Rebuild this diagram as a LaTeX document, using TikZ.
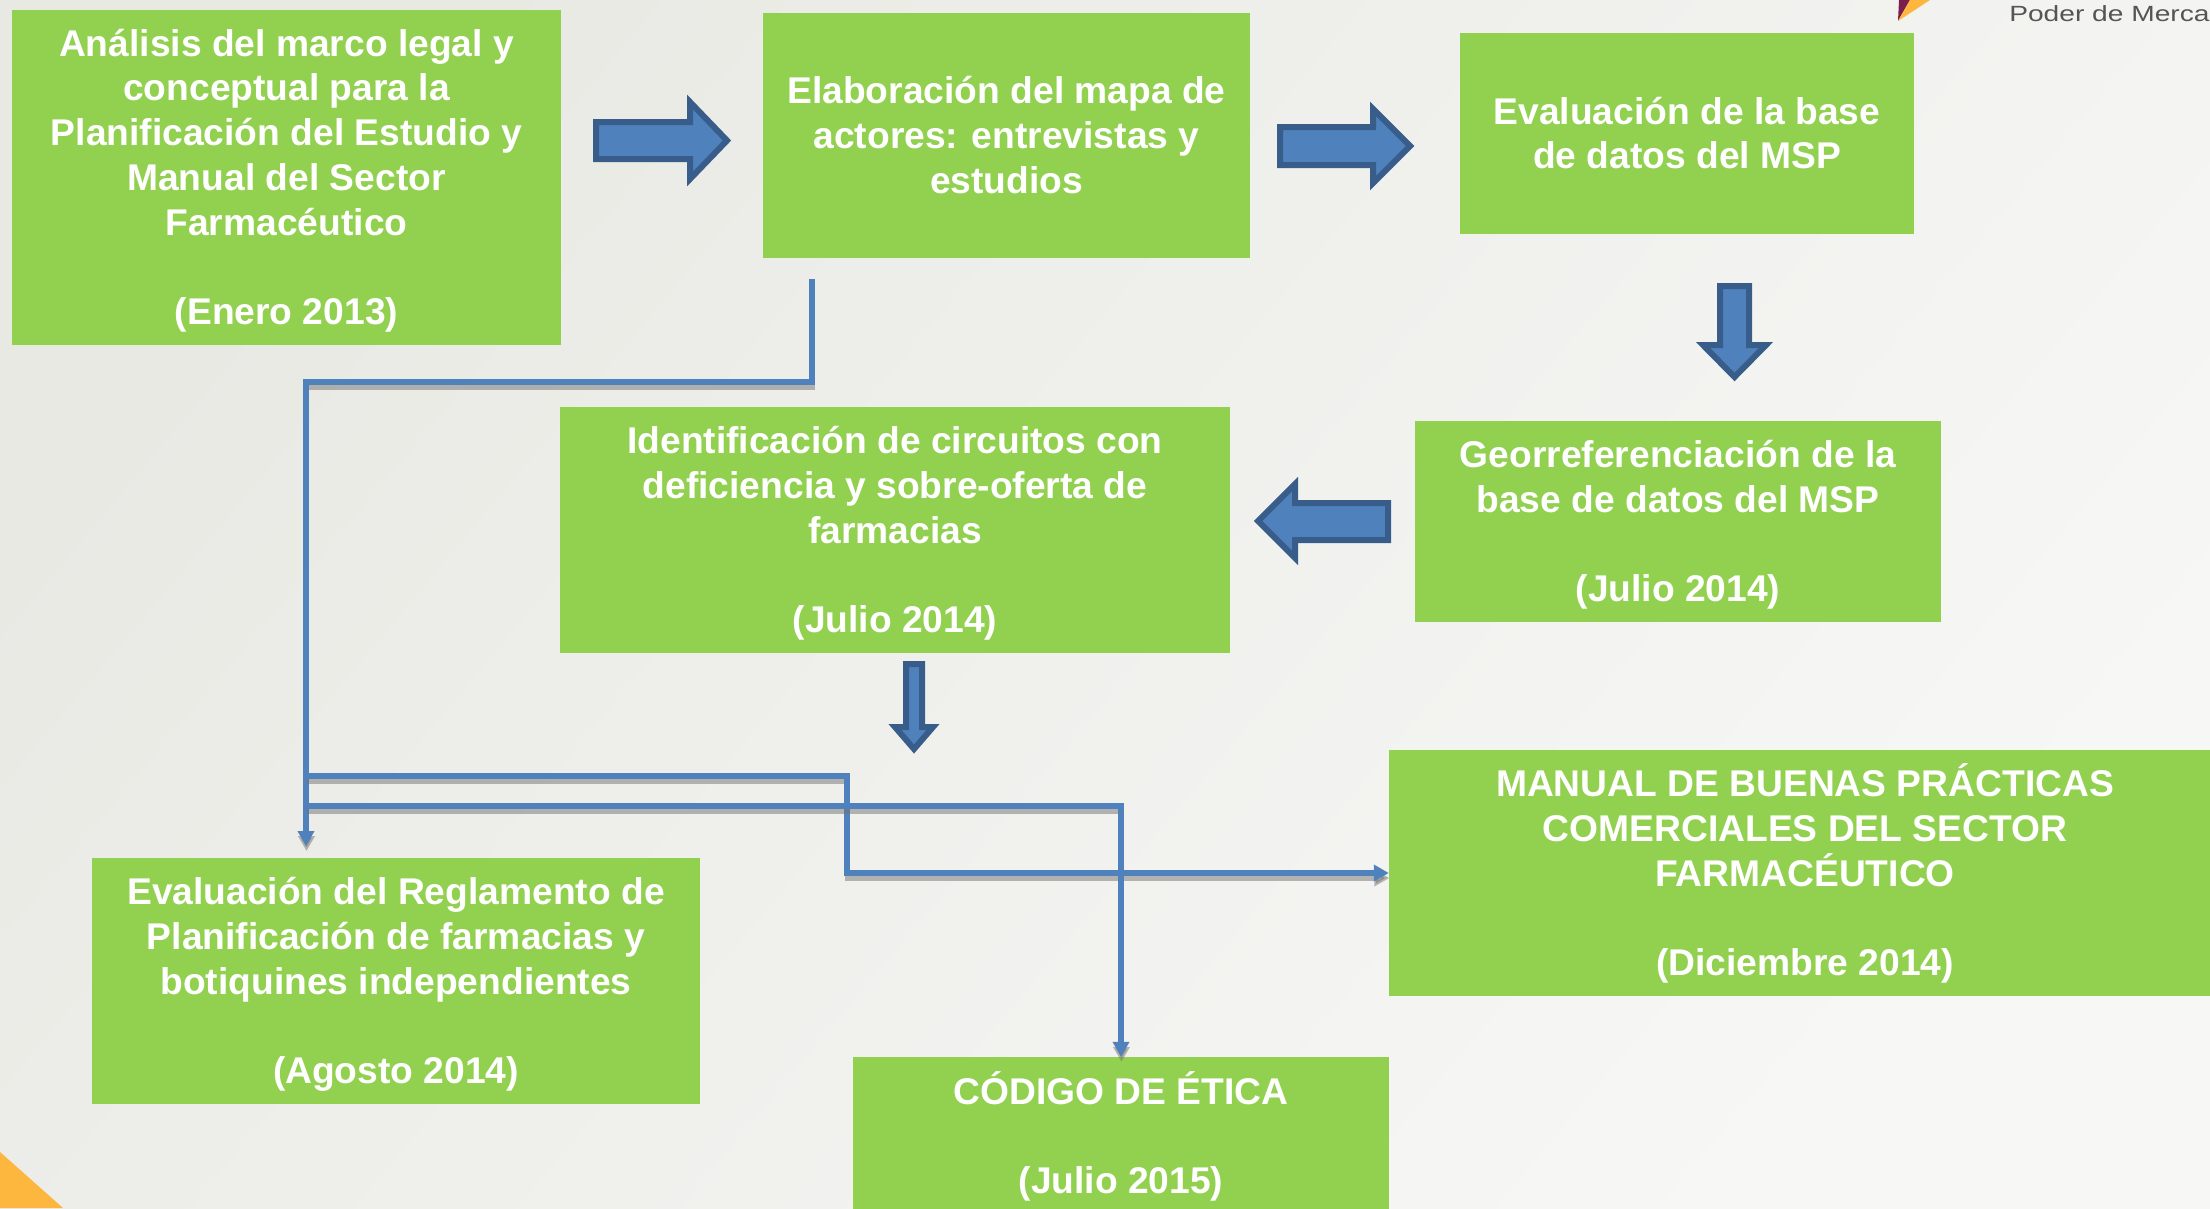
\documentclass[tikz,border=0pt]{standalone}
\usepackage{fontspec}
\setmainfont{Liberation Sans}
\usetikzlibrary{arrows.meta,calc}
\definecolor{boxgreen}{HTML}{92D050}
\definecolor{blockfill}{HTML}{4F81BD}
\definecolor{blockedge}{HTML}{385D8A}
\definecolor{bgleft}{HTML}{E9E9E4}
\definecolor{bgright}{HTML}{F7F7F6}
\definecolor{logoorange}{HTML}{FDB73F}
\definecolor{logomaroon}{HTML}{7A1F4B}
\definecolor{logotext}{HTML}{555555}
\newcommand\firstup{\rule{0pt}{37pt}}
\newcommand\lastdown{\rule[-11pt]{0pt}{1pt}}
\tikzset{
  stepbox/.style={fill=boxgreen,draw=none,text=white,align=center,inner sep=0pt,
    font=\fontsize{37.2}{44.8}\selectfont\bfseries},
  blockarrow/.style={fill=blockfill,draw=blockedge,line width=6pt,miter limit=10},
  connector/.style={draw=blockfill,line width=5.5pt,line join=miter,
    preaction={draw=black!55,opacity=.5,line width=5.5pt,transform canvas={xshift=0.5pt,yshift=-5pt}}},
  tipped/.style={-{Triangle[width=16pt,length=15pt]}}
}
\begin{document}
\begin{tikzpicture}[x=1pt,y=-1pt]
\clip (0,0) rectangle (2210,1208);
\shade[left color=bgleft,right color=bgright,shading angle=50] (0,0) rectangle (2210,1208);
% corner decoration and logo remnants
\fill[logoorange] (0,1152) -- (63,1208) -- (0,1208) -- cycle;
\fill[logomaroon] (1898,21) -- (1899,0) -- (1910,0) -- cycle;
\fill[logoorange] (1898,21) -- (1910,0) -- (1930,0) -- cycle;
\node[anchor=base west,inner sep=0pt,text=logotext,font=\fontsize{22}{26}\selectfont,xscale=1.28,transform shape] (logo) at (2009,21) {Poder de Merca};
% boxes
\node[stepbox,minimum width=549pt,minimum height=335pt] (a) at (286.5,177.5) {\firstup Análisis del marco legal y\\conceptual para la\\Planificación del Estudio y\\Manual del Sector\\Farmacéutico\\~\\(Enero 2013)\lastdown};
\node[stepbox,minimum width=487pt,minimum height=245pt] (b) at (1006.5,135.5) {\firstup Elaboración del mapa de\\actores: entrevistas y\\estudios\lastdown};
\node[stepbox,minimum width=454pt,minimum height=201pt] (c) at (1687,133.5) {\firstup Evaluación de la base\\de datos del MSP\lastdown};
\node[stepbox,minimum width=526pt,minimum height=201pt] (d) at (1678,521.5) {\firstup Georreferenciación de la\\base de datos del MSP\\~\\(Julio 2014)\lastdown};
\node[stepbox,minimum width=670pt,minimum height=246pt] (e) at (895,530) {\firstup Identificación de circuitos con\\deficiencia y sobre-oferta de\\farmacias\\~\\(Julio 2014)\lastdown};
\node[stepbox,minimum width=832pt,minimum height=246pt] (f) at (1805,873) {\firstup MANUAL DE BUENAS PRÁCTICAS\\COMERCIALES DEL SECTOR\\FARMACÉUTICO\\~\\(Diciembre 2014)\lastdown};
\node[stepbox,minimum width=608pt,minimum height=246pt] (g) at (396,981) {\firstup Evaluación del Reglamento de\\Planificación de farmacias y\\botiquines independientes\\~\\(Agosto 2014)\lastdown};
\node[stepbox,minimum width=536pt,minimum height=158pt] (h) at (1121,1136) {\firstup CÓDIGO DE ÉTICA\\~\\(Julio 2015)\lastdown};
% block arrows
\draw[blockarrow] (596,122) -- (690,122) -- (690,102) -- (727,140.5) -- (690,179) -- (690,159) -- (596,159) -- cycle;
\draw[blockarrow] (1280,127) -- (1373,127) -- (1373,109) -- (1410,146) -- (1373,183) -- (1373,165) -- (1280,165) -- cycle;
\draw[blockarrow] (1720,286) -- (1749,286) -- (1749,345) -- (1766,345) -- (1734.5,377) -- (1703,345) -- (1720,345) -- cycle;
\draw[blockarrow] (1388,503) -- (1295,503) -- (1295,484) -- (1258,521) -- (1295,558) -- (1295,540) -- (1388,540) -- cycle;
\draw[blockarrow] (906,664) -- (922,664) -- (922,727) -- (933,727) -- (914,749) -- (895,727) -- (906,727) -- cycle;
% connectors
\coordinate (bout) at (812,279);
\coordinate (bend) at (812,382);
\coordinate (trunk) at (306,382);
\coordinate (gin) at (306,846);
\coordinate (j1) at (306,776);
\coordinate (j1b) at (847,776);
\coordinate (j2) at (306,806);
\draw[connector,tipped] (bout) -- (bend) -- (trunk) -- (gin);
\draw[connector,tipped] (j1) -- (j1b) |- (f.west);
\draw[connector,tipped] (j2) -| (h.north);
\end{tikzpicture}
\end{document}
